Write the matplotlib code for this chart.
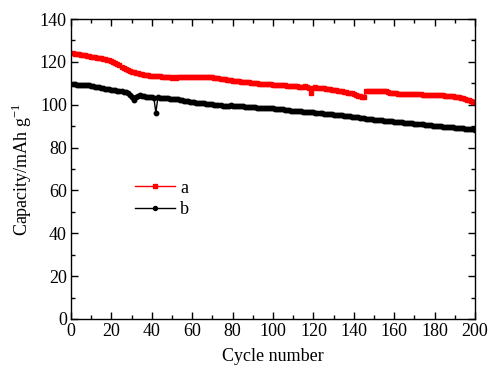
import matplotlib
matplotlib.use("Agg")
import matplotlib.pyplot as plt
from matplotlib.ticker import MultipleLocator

cycles = list(range(1, 201))

cap_a = [
    124.0, 123.8, 123.6, 123.5, 123.3, 123.1, 123.0, 122.8, 122.6, 122.5,
    122.3, 122.2, 122.0, 121.9, 121.7, 121.5, 121.3, 121.1, 120.8, 120.5,
    120.1, 119.6, 119.0, 118.4, 117.8, 117.2, 116.7, 116.3, 115.9, 115.5,
    115.1, 114.8, 114.6, 114.4, 114.2, 114.0, 113.9, 113.7, 113.6, 113.5,
    113.4, 113.3, 113.4, 113.2, 113.0, 112.8, 113.0, 112.9, 112.8, 112.7,
    112.8, 112.7, 112.8, 112.9, 112.8, 112.9, 113.0, 112.9, 113.0, 113.1,
    113.0, 113.1, 113.0, 113.1, 113.0, 113.1, 113.0, 112.9, 113.0, 112.8,
    112.6, 112.4, 112.3, 112.1, 112.0, 111.8, 111.7, 111.6, 111.4, 111.3,
    111.2, 111.0, 110.9, 110.8, 110.7, 110.6, 110.5, 110.4, 110.3, 110.2,
    110.1, 110.0, 109.9, 109.9, 109.8, 109.7, 109.7, 109.6, 109.5, 109.4,
    109.3, 109.3, 109.2, 109.1, 109.0, 109.0, 108.9, 108.8, 108.8, 108.7,
    108.6, 108.6, 108.5, 108.5, 108.4, 108.8, 108.5, 107.8, 105.5, 108.0,
    108.2, 108.0, 107.9, 107.8, 107.7, 107.5, 107.4, 107.3, 107.1, 107.0,
    106.8, 106.6, 106.5, 106.3, 106.1, 105.9, 105.7, 105.5, 105.3, 105.0,
    104.6, 104.3, 104.0, 103.7, 103.4, 106.3, 106.4, 106.4, 106.5, 106.4,
    106.4, 106.3, 106.4, 106.3, 106.2, 106.2, 106.0, 105.6, 105.4, 105.3,
    105.3, 105.2, 105.2, 105.1, 105.1, 105.0, 105.0, 104.9, 104.9, 104.9,
    104.8, 104.8, 104.8, 104.7, 104.7, 104.6, 104.6, 104.6, 104.5, 104.5,
    104.5, 104.5, 104.4, 104.4, 104.3, 104.2, 104.1, 104.0, 103.9, 103.8,
    103.6, 103.4, 103.2, 103.0, 102.7, 102.4, 102.1, 101.8, 101.5, 101.2,
]

cap_b = [
    109.5, 109.5, 109.4, 109.4, 109.3, 109.3, 109.2, 109.1, 109.0, 108.9,
    108.7, 108.5, 108.3, 108.1, 107.9, 107.7, 107.5, 107.3, 107.2, 107.0,
    106.8, 106.7, 106.5, 106.4, 106.3, 106.1, 106.0, 105.6, 104.6, 103.6,
    102.3, 103.5, 104.3, 104.6, 104.3, 104.0, 103.8, 103.6, 103.5, 103.4,
    103.3, 96.3, 103.4, 103.3, 103.2, 103.1, 103.0, 103.0, 102.9, 102.8,
    102.7, 102.6, 102.5, 102.3, 102.1, 101.9, 101.8, 101.6, 101.5, 101.3,
    101.2, 101.0, 100.9, 100.8, 100.7, 100.6, 100.5, 100.4, 100.3, 100.2,
    100.0, 99.9, 99.8, 99.7, 99.6, 99.6, 99.5, 99.6, 99.7, 99.6,
    99.5, 99.4, 99.3, 99.3, 99.2, 99.1, 99.0, 99.0, 98.9, 98.8,
    98.8, 98.7, 98.7, 98.6, 98.6, 98.5, 98.5, 98.4, 98.4, 98.3,
    98.2, 98.1, 98.0, 97.9, 97.8, 97.6, 97.5, 97.4, 97.3, 97.2,
    97.1, 97.0, 96.9, 96.9, 96.8, 96.7, 96.6, 96.6, 96.5, 96.4,
    96.3, 96.2, 96.1, 96.0, 95.9, 95.8, 95.7, 95.6, 95.5, 95.4,
    95.3, 95.2, 95.1, 95.0, 94.9, 94.8, 94.7, 94.6, 94.5, 94.4,
    94.3, 94.1, 93.9, 93.8, 93.7, 93.5, 93.4, 93.3, 93.2, 93.1,
    93.0, 92.9, 92.8, 92.7, 92.6, 92.5, 92.4, 92.3, 92.2, 92.1,
    92.0, 91.9, 91.9, 91.8, 91.7, 91.6, 91.5, 91.4, 91.3, 91.2,
    91.1, 91.0, 90.9, 90.8, 90.7, 90.6, 90.5, 90.4, 90.3, 90.2,
    90.1, 90.0, 89.9, 89.8, 89.8, 89.7, 89.6, 89.5, 89.4, 89.3,
    89.2, 89.1, 89.0, 89.0, 88.9, 88.8, 88.7, 88.6, 88.5, 88.4,
]

labels = ["a", "b"]

plt.rcParams['font.family'] = ['Liberation Serif', 'DejaVu Serif']
plt.rcParams['mathtext.fontset'] = 'custom'
plt.rcParams['mathtext.rm'] = 'Liberation Serif'

FS = 13

fig = plt.figure(figsize=(4.88, 3.73), dpi=100)
ax = fig.add_axes([0.1455, 0.1448, 0.828, 0.8042])

ax.plot(cycles, cap_a, color='#ff0000', marker='s', markersize=3.2, linewidth=1.0, label=labels[0])
ax.plot(cycles, cap_b, color='#000000', marker='o', markersize=3.2, linewidth=1.0, label=labels[1])

ax.set_xlim(0, 200)
ax.set_ylim(0, 140)
ax.xaxis.set_major_locator(MultipleLocator(20))
ax.xaxis.set_minor_locator(MultipleLocator(10))
ax.yaxis.set_major_locator(MultipleLocator(20))
ax.yaxis.set_minor_locator(MultipleLocator(10))
ax.tick_params(which='both', direction='in', top=True, right=True, labelsize=FS, width=1.0)
ax.tick_params(which='major', length=5, pad=3)
ax.tick_params(which='minor', length=3)
for s in ax.spines.values():
    s.set_linewidth(1.0)

ax.set_xlabel('Cycle number', fontsize=FS, labelpad=6)
ax.set_ylabel('Capacity/mAh g$^{-1}$', fontsize=FS, labelpad=4)

leg = ax.legend(loc='upper left', bbox_to_anchor=(0.119, 0.519), frameon=False,
                fontsize=FS, handlelength=2.2, handletextpad=0.28, labelspacing=0.25,
                markerscale=0.9)

fig.savefig('out.png', dpi=100)
